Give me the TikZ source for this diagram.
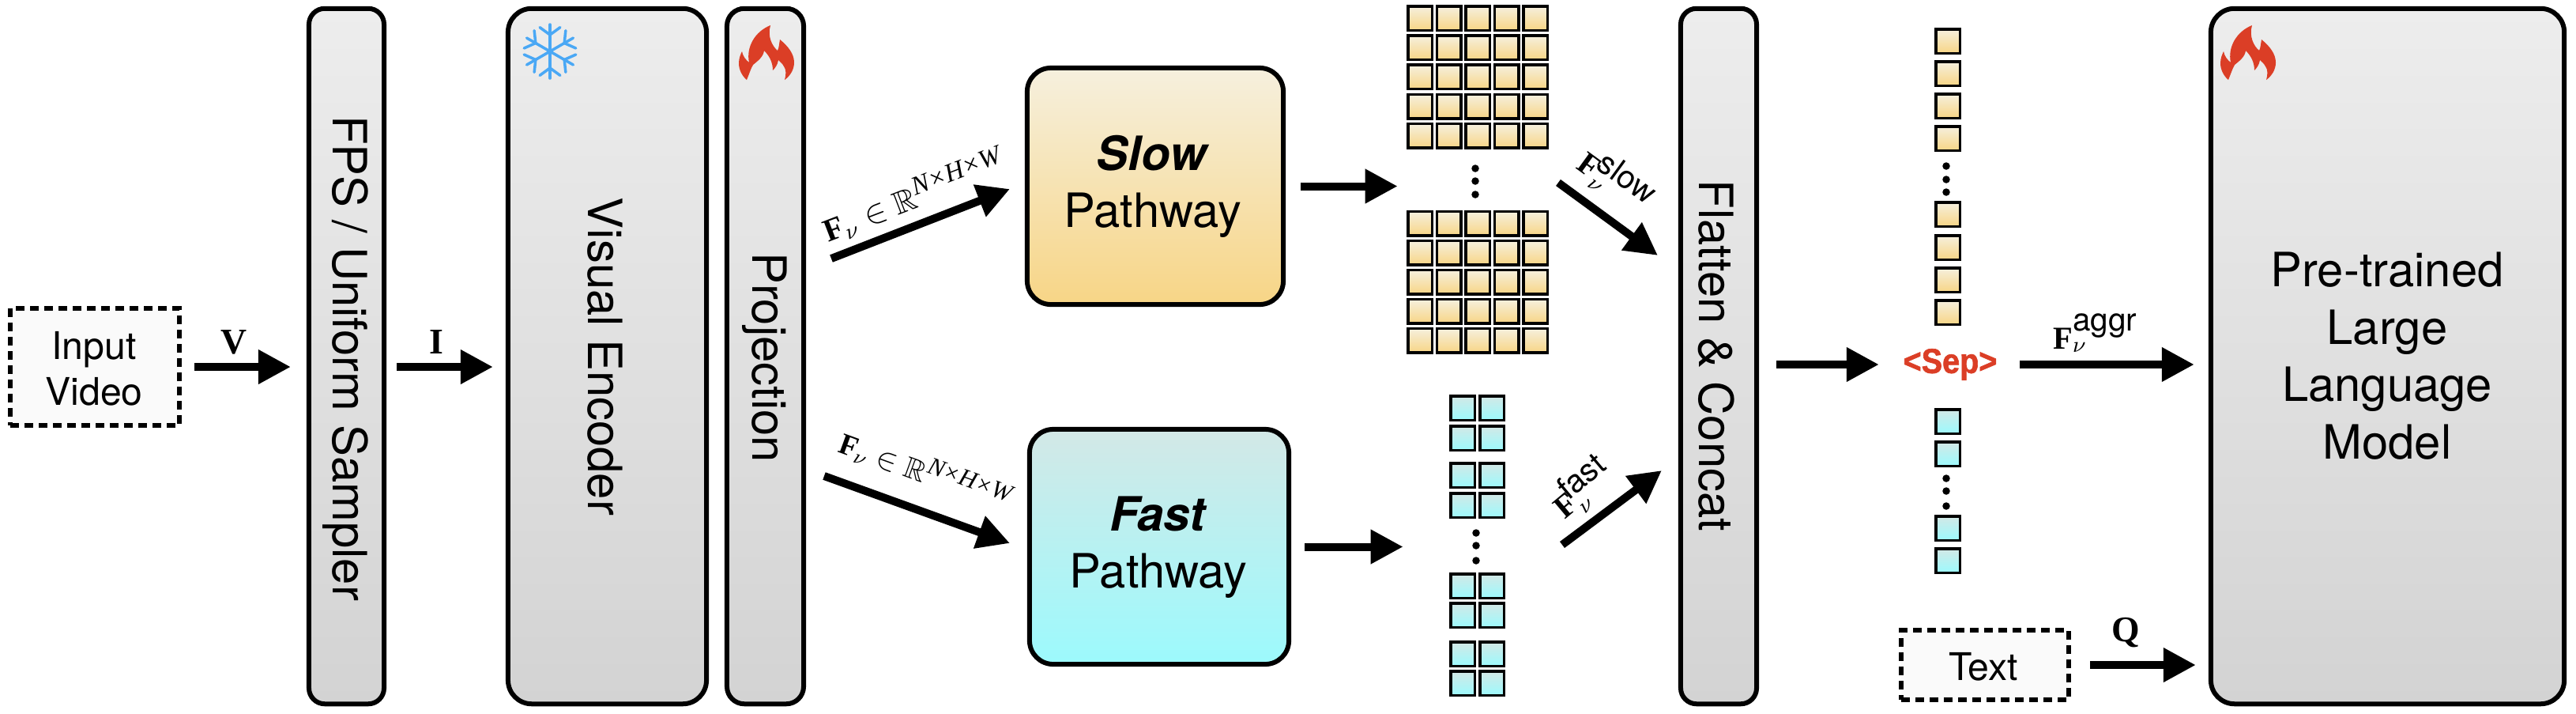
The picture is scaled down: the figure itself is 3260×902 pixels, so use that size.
\documentclass[tikz,border=0pt]{standalone}
\usepackage{amsmath, amssymb}
\usepackage[no-math]{fontspec}
\setmainfont{TeX Gyre Heros}
\newfontfamily\lblfont{Liberation Serif}
\newfontfamily\sepfont[FakeStretch=0.9,BoldFeatures={FakeBold=1.5}]{Liberation Sans}
\usepackage{tikz}
\usetikzlibrary{arrows.meta, positioning}
\definecolor{greytop}{HTML}{EDEDED}
\definecolor{greybot}{HTML}{D3D3D3}
\definecolor{slowtop}{HTML}{F6F0DE}
\definecolor{slowbot}{HTML}{F7D586}
\definecolor{fasttop}{HTML}{D3E8E6}
\definecolor{fastbot}{HTML}{9CFAFD}
\definecolor{hotred}{HTML}{DB3E26}
\definecolor{icyblue}{HTML}{4AA8F5}
\definecolor{dashfill}{HTML}{FAFAFA}
\newcommand{\boldF}{\mbox{\lblfont\bfseries F}}
\newcommand{\dimsup}{\mbox{\fontsize{9.5}{10}\lblfont\itshape N×H×W}}
\begin{document}
\begin{tikzpicture}[x=0.01cm, y=-0.01cm,
    bigtext/.style={font=\fontsize{17}{20.6}\selectfont, align=center, inner sep=0pt},
    sidetext/.style={bigtext, rotate=-90},
    smalltext/.style={font=\fontsize{13.7}{16.5}\selectfont, align=center, inner sep=0pt},
    mathlabel/.style={font=\fontsize{11.5}{13}\selectfont, inner sep=0pt},
    arrowlabel/.style={font=\fontsize{13}{15}\selectfont\lblfont\bfseries, inner sep=0pt},
    block/.style={draw=black, line width=0.06cm, outer sep=0pt, rounded corners=0.3cm},
    greyblock/.style={block, top color=greytop, bottom color=greybot, minimum height=8.79cm},
    inputbox/.style={draw=black, fill=dashfill, line width=0.06cm, outer sep=0pt, dash pattern=on 0.11cm off 0.07cm},
    slowcell/.style={draw=black, line width=0.035cm, outer sep=0pt, top color=slowtop, bottom color=slowbot, minimum size=0.305cm, inner sep=0pt},
    fastcell/.style={slowcell, top color=fasttop, bottom color=fastbot},
    dotmark/.style={circle, fill=black, minimum size=0.095cm, inner sep=0pt},
    msg/.style={-{Triangle[length=0.41cm, width=0.41cm]}, line width=0.1cm},
    flame/.pic={
        \fill[hotred] (40,0) .. controls (36,14) and (42,26) .. (49,32) .. controls (51,28) and (51,23) .. (52,18)
            .. controls (62,26) and (70,36) .. (70,47) .. controls (70,56) and (65,64) .. (58,69)
            .. controls (60,62) and (60,56) .. (57,52) .. controls (55,48) and (52,46) .. (50,44)
            .. controls (49,50) and (46,54) .. (43,57) .. controls (43,46) and (38,38) .. (32,32)
            .. controls (31,40) and (24,45) .. (18,50) .. controls (15,55) and (13,62) .. (10,69)
            .. controls (4,64) and (0,56) .. (0,48) .. controls (0,42) and (2,37) .. (4,33)
            .. controls (5,39) and (9,44) .. (13,47) .. controls (9,28) and (20,8) .. (40,0) -- cycle;
    },
    snowflake/.pic={
        \foreach \a in {30,90,150,210,270,330} {
            \draw[icyblue, line width=0.035cm, line cap=round] (0,0) -- (\a:34);
            \draw[icyblue, line width=0.035cm, line cap=round] (\a+23:33) -- (\a:21) -- (\a-23:33);
        }
    }]
    \useasboundingbox (0,0) rectangle (3260,902);

    \node[inputbox, minimum width=2.14cm, minimum height=1.48cm] (input) at (120,464) {};
    \node[smalltext] (inputtext) at (119,466) {Input\\Video};

    \node[greyblock, minimum width=0.95cm, rounded corners=0.2cm] (fps) at (438.5,450.5) {};
    \node[sidetext] (fpstext) at (437,453) {FPS / Uniform Sampler};

    \node[greyblock, minimum width=2.51cm] (enc) at (768.5,450.5) {};
    \node[sidetext] (enctext) at (766,451) {Visual Encoder};
    \pic (frozen) at (696,65) {snowflake};

    \node[greyblock, minimum width=0.97cm, rounded corners=0.22cm] (proj) at (968.5,450.5) {};
    \node[sidetext] (projtext) at (968,452) {Projection};
    \pic (hotproj) at (935,32) {flame};

    \node[block, top color=slowtop, bottom color=slowbot, minimum width=3.24cm, minimum height=2.99cm] (slow) at (1462,235.5) {};
    \node[bigtext] (slowtext) at (1459,236) {\textbf{\textit{Slow}}\\Pathway};
    \node[block, top color=fasttop, bottom color=fastbot, minimum width=3.28cm, minimum height=2.97cm] (fast) at (1467,691.5) {};
    \node[bigtext] (fasttext) at (1466,692) {\textbf{\textit{Fast}}\\Pathway};

    \foreach \c in {0,...,4} {
        \foreach \r in {0,...,4} {
            \node[slowcell] (st\c\r) at (1797+36.5*\c, 23+37.2*\r) {};
            \node[slowcell] (sb\c\r) at (1797+36.5*\c, 282.5+37*\r) {};
        }
    }
    \foreach \y in {213,229,246} \node[dotmark] (sd\y) at (1867,\y) {};

    \foreach \c in {0,1} {
        \foreach \y in {516,554,601,639,741,778,827,864} \node[fastcell] (fc\c\y) at (1851+37*\c,\y) {};
    }
    \foreach \y in {674,690,709} \node[dotmark] (fd\y) at (1868,\y) {};

    \node[greyblock, minimum width=0.96cm, rounded corners=0.2cm] (flat) at (2175,450.5) {};
    \node[sidetext] (flattext) at (2172,450) {Flatten \& Concat};

    \foreach \y in {52,93,134,175,271,313,354,395} \node[slowcell] (cs\y) at (2465,\y) {};
    \foreach \y in {210,227,243} \node[dotmark] (csd\y) at (2463,\y) {};
    \node[inner sep=0pt, text=hotred, font=\fontsize{12.5}{14}\selectfont\sepfont\bfseries] (sep) at (2468,461) {<Sep>};
    \foreach \y in {533,574,668,709} \node[fastcell] (cf\y) at (2465,\y) {};
    \foreach \y in {605,621,640} \node[dotmark] (cfd\y) at (2463,\y) {};

    \node[inputbox, minimum width=2.12cm, minimum height=0.88cm] (text) at (2512,841) {};
    \node[smalltext] (texttext) at (2510,843) {Text};

    \node[greyblock, minimum width=4.47cm] (llm) at (3021.5,450.5) {};
    \node[bigtext] (llmtext) at (3021,450) {Pre-trained\\Large\\Language\\Model};
    \pic (hotllm) at (2810,32) {flame};

    \coordinate (slowfrom) at (1052,327);
    \coordinate (slowinto) at (1278,239);
    \coordinate (fastfrom) at (1043,602);
    \coordinate (fastinto) at (1278,687);
    \coordinate (slowout) at (1972,231);
    \coordinate (slowend) at (2098,323);
    \coordinate (fastout) at (1977,689);
    \coordinate (fastend) at (2103,595);

    \draw[msg, shorten <=0.19cm, shorten >=0.23cm] (input.east) -- (input.east -| fps.west);
    \draw[msg, shorten <=0.16cm, shorten >=0.19cm] (input.east -| fps.east) -- (input.east -| enc.west);
    \draw[msg] (slowfrom) -- (slowinto);
    \draw[msg] (fastfrom) -- (fastinto);
    \draw[msg, shorten <=0.22cm, shorten >=0.13cm] (slow.east) -- (slow.east -| st00.west);
    \draw[msg, shorten <=0.20cm, shorten >=0.60cm] (fast.east) -- (fast.east -| fc0516.west);
    \draw[msg] (slowout) -- (slowend);
    \draw[msg] (fastout) -- (fastend);
    \draw[msg, shorten <=0.25cm, shorten >=0.30cm] (sep.west -| flat.east) -- (sep.west);
    \draw[msg, shorten <=0.28cm, shorten >=0.21cm] (sep.east) -- (sep.east -| llm.west);
    \draw[msg, shorten <=0.27cm, shorten >=0.19cm] (text.east) -- (text.east -| llm.west);

    \node[arrowlabel] (vlabel) at (296,433) {V};
    \node[arrowlabel] (ilabel) at (552,433) {I};
    \node[arrowlabel] (qlabel) at (2690,800) {Q};
    \node[mathlabel, rotate=21] (slowdim) at (1157,248) {$\boldF_{\nu} \in \mathbb{R}^{\dimsup}$};
    \node[mathlabel, rotate=-20, scale=0.93] (fastdim) at (1171,597) {$\boldF_{\nu} \in \mathbb{R}^{\dimsup}$};
    \node[mathlabel, rotate=-36] (slowname) at (2045,229) {$\boldF_{\nu}^{\!\mbox{slow}}$};
    \node[mathlabel, rotate=40] (fastname) at (2002,617) {$\boldF_{\nu}^{\!\mbox{fast}}$};
    \node[mathlabel] (aggrname) at (2652,421) {$\boldF_{\nu}^{\mbox{aggr}}$};
\end{tikzpicture}
\end{document}
